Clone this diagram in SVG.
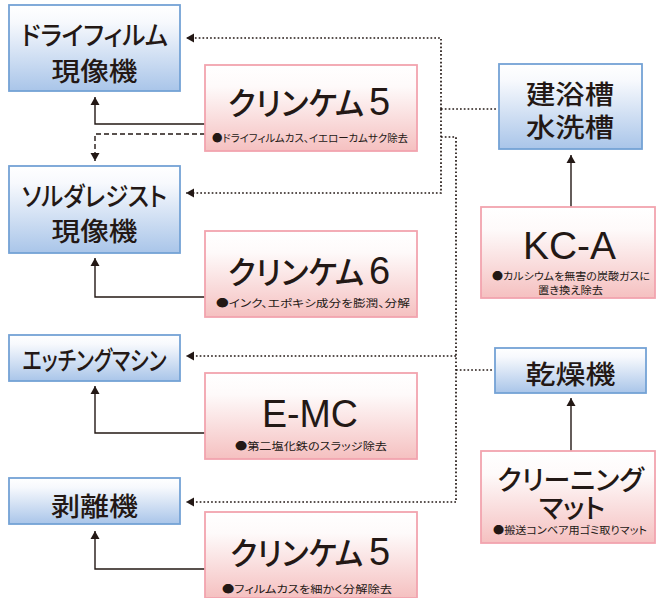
<svg xmlns="http://www.w3.org/2000/svg" width="657" height="598" viewBox="0 0 657 598">
<defs>
<linearGradient id="gb" x1="0" y1="0" x2="0" y2="1">
<stop offset="0" stop-color="#ffffff"/>
<stop offset="0.2" stop-color="#f7f9fd"/>
<stop offset="1" stop-color="#a9c5e9"/>
</linearGradient>
<linearGradient id="gp" x1="0" y1="0" x2="0" y2="1">
<stop offset="0" stop-color="#ffffff"/>
<stop offset="0.25" stop-color="#fefafa"/>
<stop offset="1" stop-color="#f5c0c0"/>
</linearGradient>
<marker id="ah" markerUnits="userSpaceOnUse" markerWidth="12" markerHeight="12" viewBox="0 0 12 12" refX="11" refY="6" orient="auto">
<path d="M3,1.5 L11,6 L3,10.5 Z" fill="#231815"/>
</marker>
<style>
.blue{fill:url(#gb);stroke:#74a2d5;stroke-width:1.8}
.pink{fill:url(#gp);stroke:#f2a4ae;stroke-width:1.8}
.jt{font-family:"Noto Sans CJK JP","Noto Sans",sans-serif;fill:#231815;text-anchor:middle;font-weight:500;font-feature-settings:"palt" 1}
.bt{font-size:26px}
.pt{font-size:32px;text-anchor:start}
.dg{font-family:"Liberation Sans",Arial,sans-serif;fill:#231815;font-size:38px}
.en{font-family:"Liberation Sans",Arial,sans-serif;fill:#231815;text-anchor:middle;font-size:39px}
.sub{font-family:"Noto Sans CJK JP","Noto Sans",sans-serif;fill:#231815;text-anchor:middle;font-size:10.5px;font-feature-settings:"palt" 1}
.solid{fill:none;stroke:#231815;stroke-width:1.4}
.dash{fill:none;stroke:#231815;stroke-width:1.4;stroke-dasharray:5 3}
.dot{fill:none;stroke:#231815;stroke-width:1.7;stroke-dasharray:1.7 2.1}
</style>
</defs>
<rect width="657" height="598" fill="#ffffff"/>

<g id="connectors">
<path class="solid" d="M205,124 H95 V97" marker-end="url(#ah)"/>
<path class="dash" d="M205,134 H95 V161" marker-end="url(#ah)"/>
<path class="solid" d="M205,297 H95 V258" marker-end="url(#ah)"/>
<path class="solid" d="M205,433 H95 V386" marker-end="url(#ah)"/>
<path class="solid" d="M205,569 H95 V531" marker-end="url(#ah)"/>
<path class="solid" d="M571,207 V155" marker-end="url(#ah)"/>
<path class="solid" d="M571,451 V398" marker-end="url(#ah)"/>
<path class="dot" d="M441,109 V38 H186" marker-end="url(#ah)"/>
<path class="dot" d="M441,109 V193 H186" marker-end="url(#ah)"/>
<path class="dot" d="M441,109 H498"/>
<path class="dot" d="M441,137 H456 V502 H186" marker-end="url(#ah)"/>
<path class="dot" d="M456,356 H186" marker-end="url(#ah)"/>
<path class="dot" d="M456,370 H494"/>
</g>

<g id="dryfilm">
<rect class="blue" x="9" y="5" width="171" height="86"/>
<text class="jt bt" x="94.5" y="45" textLength="147" lengthAdjust="spacingAndGlyphs">ドライフィルム</text>
<text class="jt bt" x="94.5" y="81" textLength="86" lengthAdjust="spacingAndGlyphs">現像機</text>
</g>
<g id="solder">
<rect class="blue" x="9" y="166" width="171" height="87"/>
<text class="jt bt" x="94.5" y="206" textLength="145" lengthAdjust="spacingAndGlyphs">ソルダレジスト</text>
<text class="jt bt" x="94.5" y="241" textLength="86" lengthAdjust="spacingAndGlyphs">現像機</text>
</g>
<g id="etching">
<rect class="blue" x="9" y="335" width="171" height="46"/>
<text class="jt bt" x="94.5" y="370" textLength="144" lengthAdjust="spacingAndGlyphs">エッチングマシン</text>
</g>
<g id="hakuri">
<rect class="blue" x="9" y="478" width="171" height="46"/>
<text class="jt bt" x="94.5" y="516" textLength="87" lengthAdjust="spacingAndGlyphs">剥離機</text>
</g>
<g id="tank">
<rect class="blue" x="499" y="64" width="143" height="85"/>
<text class="jt bt" x="570" y="104" textLength="88" lengthAdjust="spacingAndGlyphs">建浴槽</text>
<text class="jt bt" x="570" y="137" textLength="88" lengthAdjust="spacingAndGlyphs">水洗槽</text>
</g>
<g id="dryer">
<rect class="blue" x="495" y="348" width="151" height="45"/>
<text class="jt bt" x="570.5" y="384" textLength="90" lengthAdjust="spacingAndGlyphs">乾燥機</text>
</g>

<g id="clinchem5a">
<rect class="pink" x="205" y="65" width="212" height="86"/>
<text class="jt pt" x="228" y="115" textLength="136" lengthAdjust="spacingAndGlyphs">クリンケム</text>
<text class="dg" x="369" y="115">5</text>
<text class="sub" x="310" y="142" textLength="196" lengthAdjust="spacingAndGlyphs">●ドライフィルムカス、イエローカムサク除去</text>
</g>
<g id="clinchem6">
<rect class="pink" x="205" y="231" width="212" height="86"/>
<text class="jt pt" x="228" y="284" textLength="136" lengthAdjust="spacingAndGlyphs">クリンケム</text>
<text class="dg" x="369" y="284">6</text>
<text class="sub" x="313" y="307" textLength="194" lengthAdjust="spacingAndGlyphs">●インク、エポキシ成分を膨潤、分解</text>
</g>
<g id="emc">
<rect class="pink" x="205" y="373" width="212" height="86"/>
<text class="en" x="310" y="427" textLength="96" lengthAdjust="spacingAndGlyphs">E-MC</text>
<text class="sub" x="311" y="450" textLength="152" lengthAdjust="spacingAndGlyphs">●第二塩化鉄のスラッジ除去</text>
</g>
<g id="clinchem5b">
<rect class="pink" x="205" y="512" width="212" height="86"/>
<text class="jt pt" x="230" y="565" textLength="133" lengthAdjust="spacingAndGlyphs">クリンケム</text>
<text class="dg" x="369" y="565">5</text>
<text class="sub" x="307" y="593" textLength="170" lengthAdjust="spacingAndGlyphs">●フィルムカスを細かく分解除去</text>
</g>
<g id="kca">
<rect class="pink" x="481" y="207" width="174" height="91"/>
<text class="en" x="569.5" y="259" textLength="93" lengthAdjust="spacingAndGlyphs">KC-A</text>
<text class="sub" x="571" y="280" textLength="158" lengthAdjust="spacingAndGlyphs">●カルシウムを無害の炭酸ガスに</text>
<text class="sub" x="570.5" y="294" textLength="65" lengthAdjust="spacingAndGlyphs">置き換え除去</text>
</g>
<g id="mat">
<rect class="pink" x="481" y="451" width="174" height="92"/>
<text class="jt" style="font-size:27px"><tspan x="570.5" y="490">クリーニング</tspan><tspan x="572" y="518">マット</tspan></text>
<text class="sub" x="570" y="534" textLength="154" lengthAdjust="spacingAndGlyphs">●搬送コンベア用ゴミ取りマット</text>
</g>
</svg>
